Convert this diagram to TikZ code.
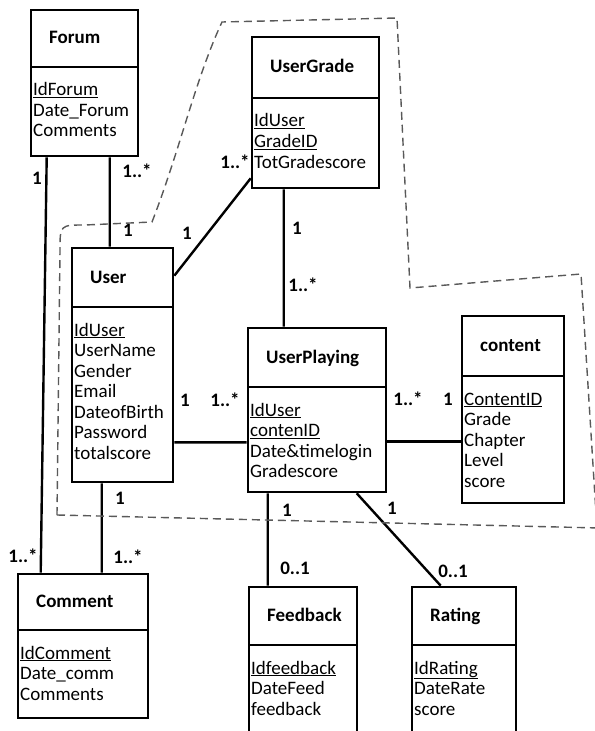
\documentclass[tikz,border=0pt]{standalone}
\usepackage{fontspec}
\setmainfont{Carlito}
\usetikzlibrary{arrows.meta, calc}

\tikzset{
  classbox/.style={draw, line width=2.6bp, inner sep=0pt},
  classline/.style={line width=2.6bp},
  clstitle/.style={inner sep=0pt, font=\fontsize{19bp}{20.5bp}\selectfont\bfseries},
  clsattr/.style={inner sep=0pt, font=\fontsize{19bp}{20.5bp}\selectfont},
  mult/.style={inner sep=0pt, font=\fontsize{19bp}{20.5bp}\selectfont\bfseries},
  assoc/.style={line width=2.4bp},
  boundary/.style={dash pattern=on 8bp off 5bp, line width=1.4bp, black!65}
}

% name, left, top, width, header height, height, title, attributes
\newcommand{\umlclass}[8]{%
  \node[classbox, minimum width=#4bp, minimum height=#6bp] (#1) at ({#2+#4/2},{#3+#6/2}) {};
  \draw[classline] ({#2},{#3+#5}) -- ({#2+#4},{#3+#5});
  \node[clstitle, anchor=base west] (#1-title) at ({#2+18},{#3+#5/2+5.5}) {#7};
  \foreach \a [count=\i from 0] in {#8}
    \node[clsattr, anchor=base west] (#1-attr\i) at ({#2+2},{#3+#5+29+20.5*\i}) {\a};
}

\begin{document}
\begin{tikzpicture}[>=stealth, x=1bp, y=-1bp]
  \useasboundingbox (0,0) rectangle (595,731);
  \clip (0,0) rectangle (595,731);
  % --- classes ---
  \umlclass{forum}{31}{10}{107}{57}{146}{Forum}
    {\underline{IdForum}, Date\_Forum, Comments}
  \umlclass{usergrade}{252}{37}{127}{61}{151}{UserGrade}
    {\underline{IdUser}, \underline{GradeID}, TotGradescore}
  \umlclass{user}{72}{248}{101}{59}{234}{User}
    {\underline{IdUser}, UserName, Gender, Email, DateofBirth, Password, totalscore}
  \umlclass{userplaying}{248}{328}{138}{59}{164}{UserPlaying}
    {\underline{IdUser}, \underline{contenID}, Date\&timelogin, Gradescore}
  \umlclass{content}{462}{316}{102}{60}{187}{content}
    {\underline{ContentID}, Grade, Chapter, Level, score}
  \umlclass{comment}{18}{574}{130}{56}{144}{Comment}
    {\underline{IdComment}, Date\_comm, Comments}
  \umlclass{feedback}{249}{587}{108}{58}{170}{Feedback}
    {\underline{Idfeedback}, DateFeed, feedback}
  \umlclass{rating}{412}{587}{104}{58}{170}{Rating}
    {\underline{IdRating}, DateRate, score}

  % --- associations ---
  \draw[assoc] ([xshift=17bp]forum.south west) -- ([xshift=24bp]comment.north west);
  \draw[assoc] ([xshift=80bp]forum.south west) -- ([xshift=39bp]user.north west);
  \draw[assoc] ([yshift=-29bp]user.north east) -- ([yshift=11bp]usergrade.south west);
  \draw[assoc] ([xshift=33bp]usergrade.south west) -- ([xshift=37bp]userplaying.north west);
  \draw[assoc] ([yshift=41bp]user.south east) -- ([yshift=51bp]userplaying.south west);
  \draw[assoc] ([yshift=52bp]userplaying.south east) -- ([yshift=63bp]content.south west);
  \draw[assoc] ([xshift=31bp]user.south west) -- ([xshift=85bp]comment.north west);
  \draw[assoc] ([xshift=21bp]userplaying.south west) -- ([xshift=20bp]feedback.north west);
  \draw[assoc] ([xshift=110bp]userplaying.south west) -- ([xshift=30bp]rating.north west);

  % --- multiplicities ---
  \foreach \x/\y/\t [count=\k] in {37/178/1, 137/171/1..*, 128/230/1, 187/233/1,
      235/162/1..*, 297/228/1, 303/285/1..*, 185/400/1, 225/400/1..*,
      408/399/1..*, 448/399/1, 120/498/1, 128/557/1..*, 23/556/1..*,
      287/510/1, 295/568/0..1, 392/508/1, 453/571/0..1}
    \node[mult] (m\k) at (\x,\y) {\t};

  % --- boundary ---
  \draw[boundary] (57,515) -- (60,250) .. controls (60,225) .. (85,225) -- (152,222)
    .. controls (180,150) and (195,80) .. (222,22) -- (397,18) -- (410,288)
    -- (581,274) -- (598,545);
  \draw[boundary] (57,515) -- (600,528);
\end{tikzpicture}
\end{document}
